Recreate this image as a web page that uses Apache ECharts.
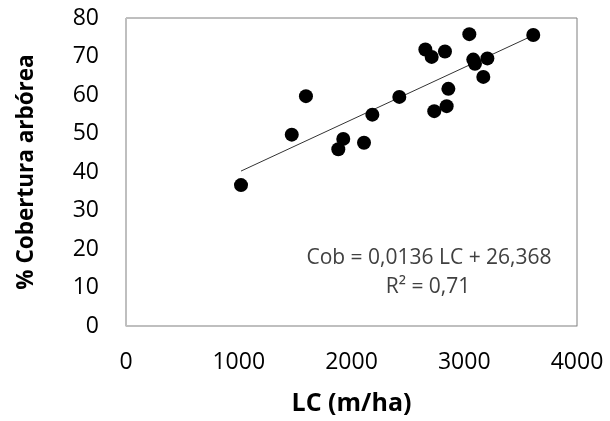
<!DOCTYPE html>
<html>
<head>
<meta charset="utf-8">
<script src="https://cdn.jsdelivr.net/npm/echarts@6/dist/echarts.min.js"></script>
<style>
html,body{margin:0;padding:0;background:#fff;}
#chart{width:610px;height:421px;}
</style>
</head>
<body>
<div id="chart"></div>
<script>
// Data
const lcValues = [1020, 1470, 1596, 1883, 1927, 2111, 2185, 2424, 2655, 2711, 2734, 2829, 2844, 2859, 3045, 3080, 3095, 3169, 3205, 3612];
const coverValues = [36.6, 49.7, 59.7, 45.9, 48.6, 47.6, 54.9, 59.5, 71.8, 69.9, 55.8, 71.3, 57.1, 61.6, 75.8, 69.2, 68.1, 64.7, 69.5, 75.6];
const xTicks = [0, 1000, 2000, 3000, 4000];
const yTicks = [0, 10, 20, 30, 40, 50, 60, 70, 80];
const trendSlope = 0.0136;
const trendIntercept = 26.368;
const equationLines = ['Cob = 0,0136 LC + 26,368', 'R² = 0,71'];
const xTitle = 'LC (m/ha)';
const yTitle = '% Cobertura arbórea';

const points = lcValues.map((x, i) => [x, coverValues[i]]);
const xMin = Math.min(...lcValues), xMax = Math.max(...lcValues);
const trend = [[xMin, trendSlope * xMin + trendIntercept], [xMax, trendSlope * xMax + trendIntercept]];

const chart = echarts.init(document.getElementById('chart'), null, {renderer: 'canvas'});
const font = '"Open Sans", sans-serif';
chart.setOption({
  animation: false,
  grid: {left: 126, right: 33, top: 18, bottom: 94, show: true, borderColor: '#7f7f7f', borderWidth: 1, backgroundColor: 'transparent'},
  xAxis: {
    type: 'value', min: xTicks[0], max: xTicks[xTicks.length - 1], interval: 1000,
    splitLine: {show: false}, axisTick: {show: false},
    axisLine: {show: true, lineStyle: {color: '#bfbfbf', width: 1}},
    axisLabel: {color: '#000', fontSize: 23, fontFamily: font, margin: 25, formatter: v => String(v)},
    name: xTitle, nameLocation: 'middle', nameGap: 65,
    nameTextStyle: {color: '#000', fontSize: 25, fontWeight: 'bold', fontFamily: font}
  },
  yAxis: {
    type: 'value', min: yTicks[0], max: yTicks[yTicks.length - 1], interval: 10,
    splitLine: {show: false}, axisTick: {show: false},
    axisLine: {show: true, lineStyle: {color: '#bfbfbf', width: 1}},
    axisLabel: {color: '#000', fontSize: 23, fontFamily: font, margin: 27, formatter: v => String(v)},
    name: yTitle, nameLocation: 'middle', nameGap: 88, nameRotate: 90,
    nameTextStyle: {color: '#000', fontSize: 22.5, fontWeight: 'bold', fontFamily: font}
  },
  series: [
    {type: 'line', data: trend, symbol: 'none', lineStyle: {color: '#333', width: 1}, z: 2},
    {type: 'scatter', data: points, symbol: 'circle', symbolSize: 14, itemStyle: {color: '#000', opacity: 1}, z: 3}
  ],
  graphic: [
    {type: 'text', x: 429, y: 258, style: {text: equationLines[0], align: 'center', verticalAlign: 'middle', fill: '#404040', fontSize: 21, fontFamily: font}},
    {type: 'text', x: 428, y: 287, style: {text: equationLines[1], align: 'center', verticalAlign: 'middle', fill: '#404040', fontSize: 21, fontFamily: font}}
  ]
});
</script>
</body>
</html>
